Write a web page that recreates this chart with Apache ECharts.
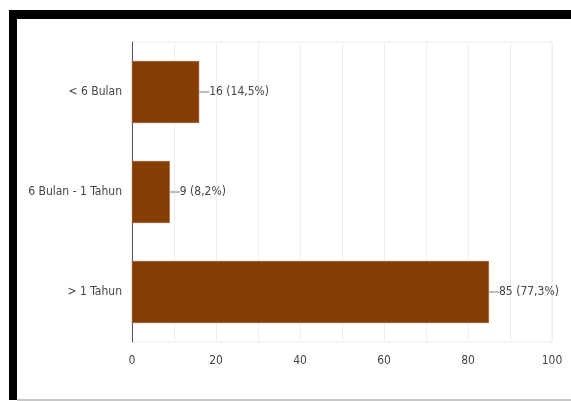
<!DOCTYPE html>
<html><head><meta charset="utf-8">
<script src="https://cdn.jsdelivr.net/npm/echarts@6/dist/echarts.min.js"></script>
<style>html,body{margin:0;padding:0;background:#fff}#c{width:571px;height:401px}</style>
</head><body><div id="c"></div>
<script>
const categories = ['< 6 Bulan', '6 Bulan - 1 Tahun', '> 1 Tahun'];
const counts = [16, 9, 85];
const percents = ['14,5%', '8,2%', '77,3%'];
const xTicks = [0, 20, 40, 60, 80, 100];

const FONT = "'DejaVu Sans Condensed', 'Liberation Sans Narrow', sans-serif";
const FS = 12;
const chart = echarts.init(document.getElementById('c'), null, {renderer: 'canvas'});
chart.setOption({
  animation: false,
  backgroundColor: '#fff',
  grid: {left: 132, right: 19, top: 42, bottom: 59, show: true, borderColor: '#eeeeee', borderWidth: 1},
  xAxis: {
    type: 'value', min: xTicks[0], max: xTicks[xTicks.length - 1], interval: 20,
    axisLine: {show: false}, axisTick: {show: false},
    splitLine: {show: true, lineStyle: {color: '#eeeeee', width: 1}},
    minorTick: {show: false, splitNumber: 2},
    minorSplitLine: {show: true, lineStyle: {color: '#eeeeee', width: 1}},
    axisLabel: {color: '#444', fontFamily: FONT, fontSize: FS, margin: 13}
  },
  yAxis: {
    type: 'category', data: categories, inverse: true,
    axisLine: {show: true, lineStyle: {color: '#555', width: 1}},
    axisTick: {show: false},
    splitLine: {show: false},
    axisLabel: {color: '#444', fontFamily: FONT, fontSize: FS, margin: 10}
  },
  series: [{
    type: 'bar', data: counts, barWidth: '62%',
    itemStyle: {color: '#853d03', borderColor: '#a0603a', borderWidth: 0.6},
    label: {
      show: true, position: 'right', distance: 0,
      formatter: p => '{ln|}' + counts[p.dataIndex] + ' (' + percents[p.dataIndex] + ')',
      color: '#444', fontFamily: FONT, fontSize: FS,
      rich: {ln: {width: 10, height: 2, backgroundColor: '#bbbbbb'}}
    }
  }],
  graphic: [
    {type: 'rect', shape: {x: 9, y: 10, width: 562, height: 9}, style: {fill: '#000'}, z: 100},
    {type: 'rect', shape: {x: 9, y: 10, width: 8, height: 390}, style: {fill: '#000'}, z: 100},
    {type: 'rect', shape: {x: 17, y: 399, width: 554, height: 2}, style: {fill: '#c8c8c8'}, z: 100}
  ]
});
</script></body></html>
